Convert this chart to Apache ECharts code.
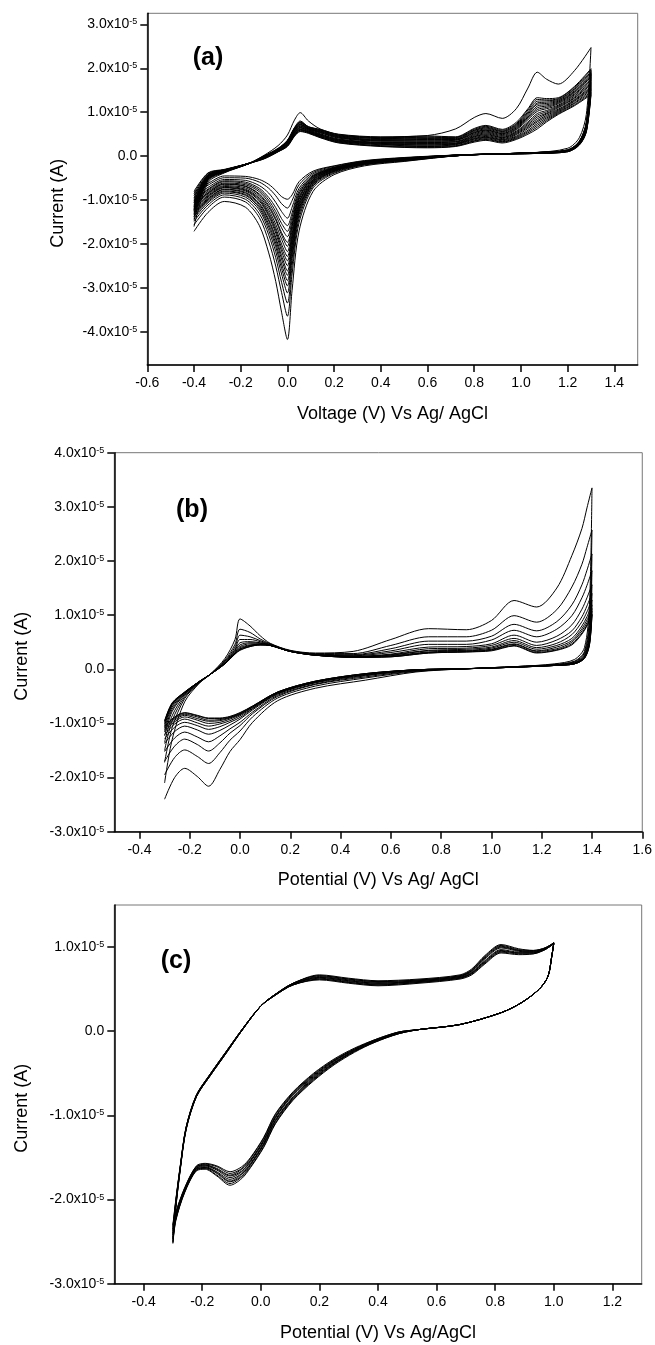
<!DOCTYPE html>
<html><head><meta charset="utf-8">
<script src="https://cdn.jsdelivr.net/npm/echarts@6/dist/echarts.min.js"></script>
<style>html,body{margin:0;padding:0;background:#fff}#c{width:655px;height:1345px}</style>
</head><body><div id="c"></div>
<script>
// Currents in units of 1e-5 A; potentials in V. One column per cycle.
// ---------- Panel (a) ----------
const aFwdX = [-0.40,-0.34,-0.27,-0.17,-0.10,-0.04,0.00,0.03,0.055,0.09,0.14,0.22,0.40,0.60,0.72,0.80,0.85,0.92,0.98,1.03,1.07,1.11,1.16,1.23,1.30];
const aFwdI = [
[-1.60,-1.46,-1.39,-1.34,-1.30,-1.26,-1.23,-1.21,-1.18,-1.15,-1.13,-1.10,-1.06,-1.05,-1.02,-0.98,-0.95,-0.90,-0.85,-0.80],
[-0.60,-0.56,-0.54,-0.53,-0.52,-0.51,-0.50,-0.49,-0.48,-0.48,-0.47,-0.46,-0.45,-0.45,-0.44,-0.43,-0.42,-0.41,-0.39,-0.38],
[-0.38,-0.37,-0.36,-0.35,-0.35,-0.35,-0.34,-0.34,-0.34,-0.34,-0.33,-0.33,-0.33,-0.33,-0.32,-0.32,-0.32,-0.31,-0.31,-0.30],
[-0.18,-0.18,-0.18,-0.18,-0.18,-0.18,-0.18,-0.18,-0.18,-0.18,-0.17,-0.17,-0.17,-0.17,-0.17,-0.17,-0.17,-0.17,-0.17,-0.17],
[0.02,0.01,0.00,-0.01,-0.01,-0.01,-0.02,-0.02,-0.02,-0.02,-0.03,-0.03,-0.03,-0.04,-0.04,-0.04,-0.05,-0.05,-0.06,-0.06],
[0.24,0.18,0.17,0.17,0.16,0.16,0.16,0.15,0.15,0.14,0.14,0.13,0.13,0.13,0.12,0.12,0.11,0.11,0.10,0.10],
[0.48,0.36,0.36,0.35,0.34,0.33,0.32,0.32,0.31,0.30,0.29,0.28,0.28,0.27,0.26,0.25,0.24,0.24,0.23,0.22],
[0.82,0.65,0.64,0.63,0.62,0.61,0.60,0.59,0.58,0.57,0.55,0.54,0.53,0.52,0.51,0.49,0.48,0.47,0.46,0.45],
[0.99,0.80,0.78,0.77,0.76,0.75,0.73,0.72,0.71,0.69,0.68,0.66,0.65,0.64,0.62,0.61,0.60,0.59,0.57,0.56],
[0.80,0.67,0.67,0.66,0.65,0.64,0.63,0.62,0.62,0.61,0.60,0.59,0.58,0.57,0.56,0.55,0.55,0.54,0.53,0.52],
[0.62,0.61,0.60,0.59,0.58,0.57,0.56,0.55,0.54,0.53,0.51,0.50,0.49,0.48,0.47,0.46,0.45,0.44,0.43,0.42],
[0.50,0.49,0.48,0.47,0.46,0.45,0.44,0.43,0.42,0.41,0.39,0.38,0.37,0.36,0.35,0.34,0.33,0.32,0.31,0.30],
[0.44,0.43,0.42,0.41,0.40,0.38,0.37,0.36,0.35,0.34,0.32,0.31,0.30,0.29,0.28,0.27,0.26,0.24,0.23,0.22],
[0.47,0.46,0.44,0.43,0.41,0.40,0.38,0.37,0.35,0.34,0.32,0.31,0.29,0.28,0.26,0.25,0.23,0.22,0.20,0.19],
[0.62,0.44,0.43,0.42,0.40,0.39,0.38,0.37,0.36,0.34,0.33,0.32,0.30,0.29,0.28,0.27,0.26,0.24,0.23,0.22],
[0.88,0.63,0.61,0.59,0.58,0.56,0.54,0.53,0.51,0.49,0.47,0.45,0.44,0.42,0.40,0.39,0.37,0.35,0.34,0.32],
[0.97,0.70,0.68,0.66,0.64,0.62,0.60,0.59,0.57,0.55,0.53,0.51,0.49,0.47,0.45,0.43,0.42,0.40,0.38,0.36],
[0.86,0.61,0.59,0.57,0.56,0.54,0.52,0.51,0.49,0.47,0.45,0.43,0.42,0.40,0.38,0.37,0.35,0.33,0.32,0.30],
[1.08,0.77,0.74,0.72,0.70,0.68,0.66,0.64,0.62,0.60,0.57,0.55,0.53,0.51,0.49,0.46,0.44,0.42,0.40,0.38],
[1.55,1.08,1.05,1.01,0.98,0.95,0.92,0.89,0.86,0.83,0.78,0.75,0.72,0.69,0.66,0.63,0.59,0.56,0.53,0.50],
[1.91,1.33,1.29,1.25,1.21,1.18,1.14,1.10,1.06,1.02,0.97,0.93,0.89,0.85,0.81,0.78,0.74,0.70,0.66,0.62],
[1.75,1.31,1.28,1.26,1.23,1.20,1.17,1.14,1.11,1.08,1.04,1.01,0.98,0.96,0.93,0.90,0.87,0.84,0.81,0.78],
[1.64,1.33,1.31,1.29,1.27,1.25,1.23,1.21,1.19,1.16,1.14,1.12,1.10,1.07,1.05,1.03,1.01,0.99,0.97,0.95],
[1.95,1.59,1.57,1.54,1.52,1.49,1.47,1.45,1.42,1.40,1.37,1.34,1.32,1.29,1.27,1.25,1.22,1.20,1.17,1.15],
[2.47,1.99,1.96,1.92,1.89,1.86,1.83,1.80,1.76,1.73,1.69,1.66,1.63,1.59,1.56,1.53,1.50,1.46,1.43,1.40]
];
const aRevX = [1.28,1.25,1.20,1.05,0.75,0.50,0.33,0.20,0.11,0.05,0.02,0.00,-0.025,-0.05,-0.08,-0.12,-0.18,-0.27,-0.34,-0.40];
const aRevI = [
[0.95,0.77,0.76,0.75,0.73,0.72,0.71,0.70,0.69,0.67,0.66,0.65,0.63,0.62,0.61,0.60,0.59,0.57,0.56,0.55],
[0.42,0.34,0.34,0.33,0.33,0.32,0.32,0.31,0.31,0.30,0.30,0.29,0.29,0.28,0.28,0.27,0.27,0.26,0.26,0.25],
[0.18,0.14,0.14,0.14,0.14,0.13,0.13,0.13,0.13,0.12,0.12,0.12,0.12,0.11,0.11,0.11,0.11,0.11,0.10,0.10],
[0.08,0.08,0.08,0.08,0.08,0.08,0.08,0.08,0.08,0.08,0.07,0.07,0.07,0.07,0.07,0.07,0.06,0.06,0.06,0.06],
[0.02,0.02,0.02,0.02,0.02,0.02,0.02,0.02,0.02,0.02,0.03,0.03,0.03,0.03,0.03,0.03,0.03,0.03,0.03,0.03],
[-0.12,-0.11,-0.10,-0.09,-0.09,-0.08,-0.08,-0.08,-0.07,-0.07,-0.07,-0.06,-0.06,-0.06,-0.05,-0.05,-0.05,-0.04,-0.04,-0.03],
[-0.22,-0.20,-0.19,-0.18,-0.17,-0.17,-0.17,-0.16,-0.16,-0.15,-0.15,-0.14,-0.14,-0.14,-0.13,-0.13,-0.12,-0.12,-0.11,-0.10],
[-0.42,-0.39,-0.37,-0.35,-0.34,-0.34,-0.33,-0.32,-0.31,-0.31,-0.30,-0.29,-0.29,-0.28,-0.27,-0.27,-0.26,-0.25,-0.23,-0.22],
[-0.80,-0.72,-0.68,-0.65,-0.63,-0.61,-0.59,-0.58,-0.56,-0.54,-0.53,-0.51,-0.49,-0.48,-0.46,-0.45,-0.43,-0.40,-0.37,-0.34],
[-1.70,-1.51,-1.41,-1.33,-1.27,-1.23,-1.19,-1.15,-1.11,-1.07,-1.04,-0.99,-0.95,-0.93,-0.88,-0.84,-0.79,-0.73,-0.65,-0.58],
[-3.05,-2.68,-2.49,-2.33,-2.23,-2.14,-2.05,-1.99,-1.90,-1.84,-1.77,-1.68,-1.60,-1.55,-1.47,-1.38,-1.29,-1.16,-1.01,-0.88],
[-4.17,-3.64,-3.34,-3.11,-2.95,-2.83,-2.71,-2.61,-2.49,-2.38,-2.28,-2.17,-2.05,-1.96,-1.83,-1.71,-1.58,-1.41,-1.18,-0.98],
[-3.55,-3.10,-2.87,-2.68,-2.55,-2.45,-2.34,-2.26,-2.16,-2.08,-2.00,-1.89,-1.79,-1.74,-1.63,-1.53,-1.42,-1.26,-1.08,-0.92],
[-2.85,-2.50,-2.31,-2.17,-2.06,-1.98,-1.90,-1.84,-1.75,-1.69,-1.63,-1.55,-1.46,-1.42,-1.34,-1.26,-1.17,-1.05,-0.90,-0.78],
[-2.20,-1.94,-1.79,-1.69,-1.61,-1.55,-1.48,-1.44,-1.37,-1.33,-1.28,-1.22,-1.16,-1.12,-1.06,-1.00,-0.94,-0.84,-0.73,-0.64],
[-1.58,-1.40,-1.31,-1.23,-1.18,-1.14,-1.10,-1.07,-1.02,-0.99,-0.96,-0.92,-0.88,-0.86,-0.81,-0.77,-0.73,-0.67,-0.59,-0.53],
[-1.16,-1.04,-0.98,-0.93,-0.89,-0.87,-0.84,-0.82,-0.79,-0.77,-0.75,-0.72,-0.69,-0.68,-0.65,-0.62,-0.59,-0.55,-0.50,-0.46],
[-1.03,-0.93,-0.88,-0.84,-0.81,-0.79,-0.76,-0.75,-0.72,-0.71,-0.69,-0.67,-0.64,-0.63,-0.61,-0.58,-0.56,-0.53,-0.49,-0.45],
[-1.28,-1.17,-1.11,-1.06,-1.03,-1.00,-0.98,-0.96,-0.93,-0.91,-0.89,-0.86,-0.84,-0.83,-0.80,-0.77,-0.75,-0.71,-0.66,-0.62],
[-1.71,-1.56,-1.48,-1.42,-1.37,-1.34,-1.30,-1.27,-1.24,-1.21,-1.19,-1.15,-1.11,-1.10,-1.06,-1.02,-0.99,-0.94,-0.87,-0.82]
];
const aXTicks = [-0.6,-0.4,-0.2,0.0,0.2,0.4,0.6,0.8,1.0,1.2,1.4];
const aYTicks = [-4,-3,-2,-1,0,1,2,3];

// ---------- Panel (b) ----------
const bFwdX = [-0.30,-0.27,-0.22,-0.16,-0.12,-0.06,-0.02,0.00,0.04,0.08,0.12,0.20,0.30,0.45,0.60,0.75,0.90,1.00,1.09,1.18,1.26,1.32,1.36,1.38,1.40];
const bFwdI = [
[-2.10,-1.72,-1.50,-1.35,-1.23,-1.15,-1.09,-1.04,-1.01,-0.98,-0.96,-0.95],
[-1.30,-1.08,-0.95,-0.86,-0.78,-0.74,-0.70,-0.67,-0.65,-0.64,-0.63,-0.62],
[-0.60,-0.54,-0.51,-0.48,-0.46,-0.45,-0.44,-0.43,-0.43,-0.43,-0.42,-0.42],
[-0.25,-0.24,-0.24,-0.23,-0.23,-0.23,-0.22,-0.22,-0.22,-0.22,-0.22,-0.22],
[-0.10,-0.10,-0.10,-0.10,-0.10,-0.10,-0.10,-0.10,-0.10,-0.10,-0.10,-0.10],
[0.20,0.17,0.15,0.14,0.12,0.12,0.11,0.11,0.11,0.10,0.10,0.10],
[0.55,0.46,0.41,0.37,0.35,0.33,0.31,0.30,0.29,0.29,0.28,0.28],
[0.93,0.74,0.63,0.55,0.49,0.45,0.42,0.40,0.38,0.37,0.36,0.35],
[0.80,0.68,0.60,0.55,0.51,0.49,0.47,0.45,0.44,0.43,0.42,0.42],
[0.62,0.56,0.53,0.51,0.49,0.48,0.47,0.46,0.46,0.45,0.45,0.45],
[0.48,0.47,0.46,0.45,0.45,0.45,0.44,0.44,0.44,0.44,0.44,0.44],
[0.35,0.34,0.34,0.34,0.33,0.33,0.33,0.33,0.33,0.33,0.33,0.33],
[0.30,0.29,0.28,0.27,0.27,0.27,0.26,0.26,0.26,0.26,0.26,0.26],
[0.33,0.29,0.27,0.26,0.25,0.24,0.23,0.23,0.23,0.22,0.22,0.22],
[0.55,0.44,0.38,0.34,0.31,0.28,0.27,0.26,0.25,0.24,0.23,0.23],
[0.75,0.60,0.52,0.46,0.41,0.38,0.35,0.34,0.32,0.31,0.30,0.30],
[0.73,0.60,0.52,0.46,0.42,0.39,0.37,0.35,0.34,0.33,0.32,0.32],
[0.90,0.72,0.61,0.54,0.47,0.44,0.41,0.39,0.37,0.36,0.35,0.34],
[1.27,0.99,0.83,0.72,0.63,0.57,0.53,0.50,0.47,0.46,0.44,0.43],
[1.15,0.87,0.71,0.60,0.50,0.44,0.40,0.37,0.34,0.33,0.31,0.30],
[1.50,1.10,0.88,0.74,0.61,0.54,0.48,0.44,0.41,0.38,0.36,0.35],
[2.10,1.52,1.19,0.99,0.82,0.71,0.64,0.57,0.53,0.50,0.47,0.45],
[2.60,1.94,1.56,1.32,1.11,0.97,0.88,0.80,0.75,0.71,0.67,0.65],
[2.98,2.25,1.83,1.55,1.32,1.17,1.06,0.97,0.91,0.86,0.82,0.80],
[3.35,2.57,2.13,1.82,1.56,1.40,1.28,1.19,1.12,1.07,1.02,1.00]
];
const bRevX = [1.39,1.37,1.33,1.25,1.10,0.90,0.70,0.50,0.30,0.15,0.05,0.00,-0.04,-0.08,-0.125,-0.17,-0.22,-0.26,-0.30];
const bRevI = [
[1.20,0.95,0.81,0.71,0.63,0.58,0.54,0.51,0.49,0.47,0.46,0.45],
[0.40,0.33,0.30,0.27,0.25,0.23,0.22,0.22,0.21,0.21,0.20,0.20],
[0.18,0.15,0.14,0.13,0.12,0.11,0.11,0.11,0.10,0.10,0.10,0.10],
[0.10,0.09,0.08,0.08,0.08,0.08,0.07,0.07,0.07,0.07,0.07,0.07],
[0.05,0.05,0.05,0.05,0.04,0.04,0.04,0.04,0.04,0.04,0.04,0.04],
[0.01,0.01,0.01,0.01,0.01,0.01,0.01,0.01,0.01,0.01,0.01,0.01],
[-0.05,-0.04,-0.03,-0.02,-0.02,-0.02,-0.01,-0.01,-0.01,-0.01,-0.01,-0.01],
[-0.20,-0.16,-0.14,-0.12,-0.11,-0.10,-0.09,-0.09,-0.09,-0.08,-0.08,-0.08],
[-0.35,-0.31,-0.28,-0.27,-0.25,-0.24,-0.24,-0.23,-0.23,-0.22,-0.22,-0.22],
[-0.58,-0.53,-0.50,-0.48,-0.46,-0.45,-0.44,-0.43,-0.43,-0.42,-0.42,-0.42],
[-0.98,-0.88,-0.82,-0.79,-0.75,-0.73,-0.72,-0.70,-0.70,-0.69,-0.68,-0.68],
[-1.30,-1.14,-1.04,-0.98,-0.92,-0.89,-0.86,-0.84,-0.83,-0.82,-0.81,-0.80],
[-1.52,-1.31,-1.18,-1.10,-1.03,-0.98,-0.95,-0.92,-0.90,-0.89,-0.88,-0.87],
[-1.85,-1.54,-1.36,-1.23,-1.13,-1.06,-1.01,-0.98,-0.95,-0.93,-0.91,-0.90],
[-2.16,-1.74,-1.51,-1.34,-1.20,-1.11,-1.05,-1.00,-0.96,-0.94,-0.91,-0.90],
[-1.98,-1.61,-1.39,-1.25,-1.12,-1.04,-0.99,-0.94,-0.91,-0.88,-0.86,-0.85],
[-1.83,-1.49,-1.29,-1.16,-1.05,-0.98,-0.92,-0.88,-0.85,-0.83,-0.81,-0.80],
[-2.00,-1.63,-1.42,-1.27,-1.15,-1.07,-1.01,-0.97,-0.94,-0.91,-0.89,-0.88],
[-2.40,-1.95,-1.70,-1.52,-1.37,-1.28,-1.21,-1.16,-1.12,-1.09,-1.06,-1.05]
];
const bXTicks = [-0.4,-0.2,0.0,0.2,0.4,0.6,0.8,1.0,1.2,1.4,1.6];
const bYTicks = [-3,-2,-1,0,1,2,3,4];

// ---------- Panel (c) ----------
const cFwdX = [-0.30,-0.29,-0.275,-0.255,-0.22,-0.175,-0.12,-0.06,0.00,0.05,0.11,0.20,0.30,0.40,0.54,0.68,0.72,0.765,0.82,0.88,0.93,0.97,1.00];
const cFwdI = [
[-2.52,-2.50,-2.47,-2.45,-2.42,-2.40,-2.37,-2.35,-2.32,-2.30],
[-2.10,-2.09,-2.08,-2.07,-2.06,-2.04,-2.03,-2.02,-2.01,-2.00],
[-1.65,-1.64,-1.64,-1.63,-1.63,-1.62,-1.62,-1.61,-1.61,-1.60],
[-1.17,-1.17,-1.16,-1.16,-1.16,-1.15,-1.15,-1.15,-1.14,-1.14],
[-0.78,-0.78,-0.78,-0.77,-0.77,-0.77,-0.77,-0.76,-0.76,-0.76],
[-0.54,-0.54,-0.54,-0.53,-0.53,-0.53,-0.53,-0.52,-0.52,-0.52],
[-0.27,-0.27,-0.27,-0.26,-0.26,-0.26,-0.26,-0.25,-0.25,-0.25],
[0.03,0.03,0.03,0.03,0.03,0.04,0.04,0.04,0.04,0.04],
[0.30,0.30,0.30,0.30,0.30,0.30,0.30,0.30,0.30,0.30],
[0.44,0.44,0.44,0.44,0.44,0.43,0.43,0.43,0.43,0.43],
[0.57,0.57,0.57,0.56,0.56,0.56,0.56,0.55,0.55,0.55],
[0.67,0.66,0.66,0.65,0.64,0.64,0.63,0.62,0.62,0.61],
[0.63,0.62,0.62,0.61,0.60,0.60,0.59,0.58,0.58,0.57],
[0.60,0.59,0.59,0.58,0.57,0.57,0.56,0.55,0.55,0.54],
[0.62,0.61,0.61,0.60,0.60,0.59,0.59,0.58,0.58,0.57],
[0.67,0.66,0.66,0.65,0.65,0.64,0.64,0.63,0.63,0.62],
[0.74,0.73,0.72,0.72,0.71,0.70,0.69,0.69,0.68,0.67],
[0.90,0.89,0.88,0.87,0.86,0.84,0.83,0.82,0.81,0.80],
[1.03,1.02,1.01,1.00,0.99,0.97,0.96,0.95,0.94,0.93],
[0.98,0.97,0.96,0.96,0.95,0.94,0.93,0.93,0.92,0.91],
[0.96,0.96,0.95,0.95,0.94,0.94,0.93,0.93,0.92,0.92],
[0.99,0.99,0.99,0.98,0.98,0.98,0.98,0.97,0.97,0.97],
[1.05,1.05,1.05,1.05,1.05,1.04,1.04,1.04,1.04,1.04]
];
const cRevX = [0.993,0.98,0.95,0.89,0.82,0.68,0.54,0.47,0.39,0.32,0.25,0.18,0.11,0.05,0.01,-0.035,-0.065,-0.105,-0.15,-0.19,-0.22,-0.26,-0.29,-0.30];
const cRevI = [
[0.89,0.89,0.89,0.89,0.89,0.89,0.89,0.89,0.89,0.89],
[0.65,0.65,0.65,0.65,0.65,0.65,0.65,0.65,0.65,0.65],
[0.50,0.50,0.50,0.50,0.50,0.50,0.50,0.50,0.50,0.50],
[0.34,0.34,0.34,0.34,0.34,0.34,0.34,0.34,0.34,0.34],
[0.22,0.22,0.22,0.22,0.22,0.22,0.22,0.22,0.22,0.22],
[0.08,0.08,0.08,0.08,0.08,0.08,0.08,0.08,0.08,0.08],
[0.02,0.02,0.02,0.02,0.02,0.02,0.02,0.02,0.02,0.02],
[-0.03,-0.03,-0.03,-0.02,-0.02,-0.02,-0.02,-0.01,-0.01,-0.01],
[-0.13,-0.13,-0.12,-0.12,-0.12,-0.11,-0.11,-0.11,-0.10,-0.10],
[-0.25,-0.24,-0.24,-0.23,-0.23,-0.22,-0.22,-0.21,-0.21,-0.20],
[-0.40,-0.39,-0.38,-0.38,-0.37,-0.36,-0.35,-0.35,-0.34,-0.33],
[-0.59,-0.58,-0.57,-0.56,-0.55,-0.54,-0.53,-0.52,-0.51,-0.50],
[-0.82,-0.81,-0.80,-0.79,-0.78,-0.76,-0.75,-0.74,-0.73,-0.72],
[-1.10,-1.09,-1.07,-1.06,-1.05,-1.03,-1.02,-1.01,-0.99,-0.98],
[-1.38,-1.37,-1.35,-1.34,-1.33,-1.31,-1.30,-1.29,-1.27,-1.26],
[-1.62,-1.61,-1.59,-1.58,-1.57,-1.55,-1.54,-1.53,-1.51,-1.50],
[-1.75,-1.73,-1.72,-1.70,-1.69,-1.67,-1.66,-1.64,-1.63,-1.61],
[-1.83,-1.81,-1.79,-1.78,-1.76,-1.74,-1.72,-1.71,-1.69,-1.67],
[-1.72,-1.71,-1.69,-1.68,-1.67,-1.65,-1.64,-1.63,-1.61,-1.60],
[-1.64,-1.63,-1.62,-1.62,-1.61,-1.60,-1.59,-1.59,-1.58,-1.57],
[-1.66,-1.65,-1.65,-1.64,-1.63,-1.63,-1.62,-1.61,-1.61,-1.60],
[-1.92,-1.91,-1.91,-1.90,-1.89,-1.89,-1.88,-1.87,-1.87,-1.86],
[-2.25,-2.24,-2.23,-2.22,-2.21,-2.19,-2.18,-2.17,-2.16,-2.15],
[-2.52,-2.50,-2.47,-2.45,-2.42,-2.40,-2.37,-2.35,-2.32,-2.30]
];
const cXTicks = [-0.4,-0.2,0.0,0.2,0.4,0.6,0.8,1.0,1.2];
const cYTicks = [-3,-2,-1,0,1];

const panelLabels = ['(a)','(b)','(c)'];
const xNames = ['Voltage (V) Vs Ag/ AgCl','Potential (V) Vs Ag/ AgCl','Potential (V) Vs Ag/AgCl'];
const yName = 'Current (A)';

// ---------- chart ----------
const FONT = "'Liberation Sans', Arial, Helvetica, sans-serif";
const grids = [
  {left:147.3, top:13.3, width:490.4, height:351.7},
  {left:114.3, top:452.7, width:529, height:379},
  {left:114.3, top:905, width:527.4, height:378.7}
];
const xRanges = [[-0.6,1.5],[-0.5,1.6],[-0.5,1.3]];
const yRanges = [[-4.75,3.25],[-3,4],[-3,1.5]];
const xTicks = [aXTicks,bXTicks,cXTicks];
const yTicks = [aYTicks,bYTicks,cYTicks];
const yNameGap = [80,83,83];
const xNameGap = [40,39,40];

function yFmt(v){
  if (Math.abs(v) < 1e-9) return '{m|0.0}';
  return '{m|' + v.toFixed(1) + 'x10}{s|-5}';
}

const axisLineStyle = {color:'#000', width:1.5};
const xAxes = [], yAxes = [];
for (let g=0; g<3; g++){
  xAxes.push({
    type:'value', gridIndex:g, min:xRanges[g][0], max:xRanges[g][1],
    name:xNames[g], nameLocation:'middle', nameGap:xNameGap[g],
    nameTextStyle:{fontFamily:FONT, fontSize:18, color:'#000'},
    axisLine:{show:true, onZero:false, lineStyle:axisLineStyle},
    axisTick:{show:true, length:7, lineStyle:{color:'#000', width:1.5}, customValues:xTicks[g]},
    axisLabel:{show:true, margin:11, fontFamily:FONT, fontSize:14, color:'#000',
      customValues:xTicks[g], formatter:(v)=>v.toFixed(1)},
    splitLine:{show:false}
  });
  yAxes.push({
    type:'value', gridIndex:g, min:yRanges[g][0], max:yRanges[g][1],
    name:yName, nameLocation:'middle', nameGap:yNameGap[g], nameRotate:90,
    nameTextStyle:{fontFamily:FONT, fontSize:18, color:'#000', padding:[0,28,0,0]},
    axisLine:{show:true, onZero:false, lineStyle:axisLineStyle},
    axisTick:{show:true, length:7, lineStyle:{color:'#000', width:1.5}, customValues:yTicks[g]},
    axisLabel:{show:true, margin:10, fontFamily:FONT, fontSize:14, color:'#000',
      customValues:yTicks[g], formatter:yFmt,
      rich:{ m:{fontFamily:FONT, fontSize:14, color:'#000'},
             s:{fontFamily:FONT, fontSize:9, color:'#000', verticalAlign:'top'} } },
    splitLine:{show:false}
  });
}

function buildSeries(fx, fi, rx, ri, g){
  const n = fi[0].length, out = [];
  for (let k=0; k<n; k++){
    const pts = fx.map((x,j)=>[x, fi[j][k]]).concat(rx.map((x,j)=>[x, ri[j][k]]));
    out.push({type:'line', xAxisIndex:g, yAxisIndex:g, data:pts, symbol:'none', showSymbol:false,
      smooth:0.3, silent:true, lineStyle:{color:'#000', width:1}});
  }
  return out;
}
const series = [].concat(
  buildSeries(aFwdX, aFwdI, aRevX, aRevI, 0),
  buildSeries(bFwdX, bFwdI, bRevX, bRevI, 1),
  buildSeries(cFwdX, cFwdI, cRevX, cRevI, 2)
);

const labelPos = [[208,58],[192,510],[176,961]];
const graphic = panelLabels.map((t,i)=>({
  type:'text', x:labelPos[i][0], y:labelPos[i][1], silent:true,
  style:{text:t, font:"bold 25px " + FONT, fill:'#000', align:'center', verticalAlign:'middle'}
}));

const chart = echarts.init(document.getElementById('c'), null, {renderer:'canvas'});
chart.setOption({
  animation:false,
  backgroundColor:'#fff',
  grid: grids.map(g=>Object.assign({show:true, borderColor:'#777', borderWidth:1, backgroundColor:'transparent'}, g)),
  xAxis: xAxes,
  yAxis: yAxes,
  series: series,
  graphic: graphic
});
</script></body></html>
